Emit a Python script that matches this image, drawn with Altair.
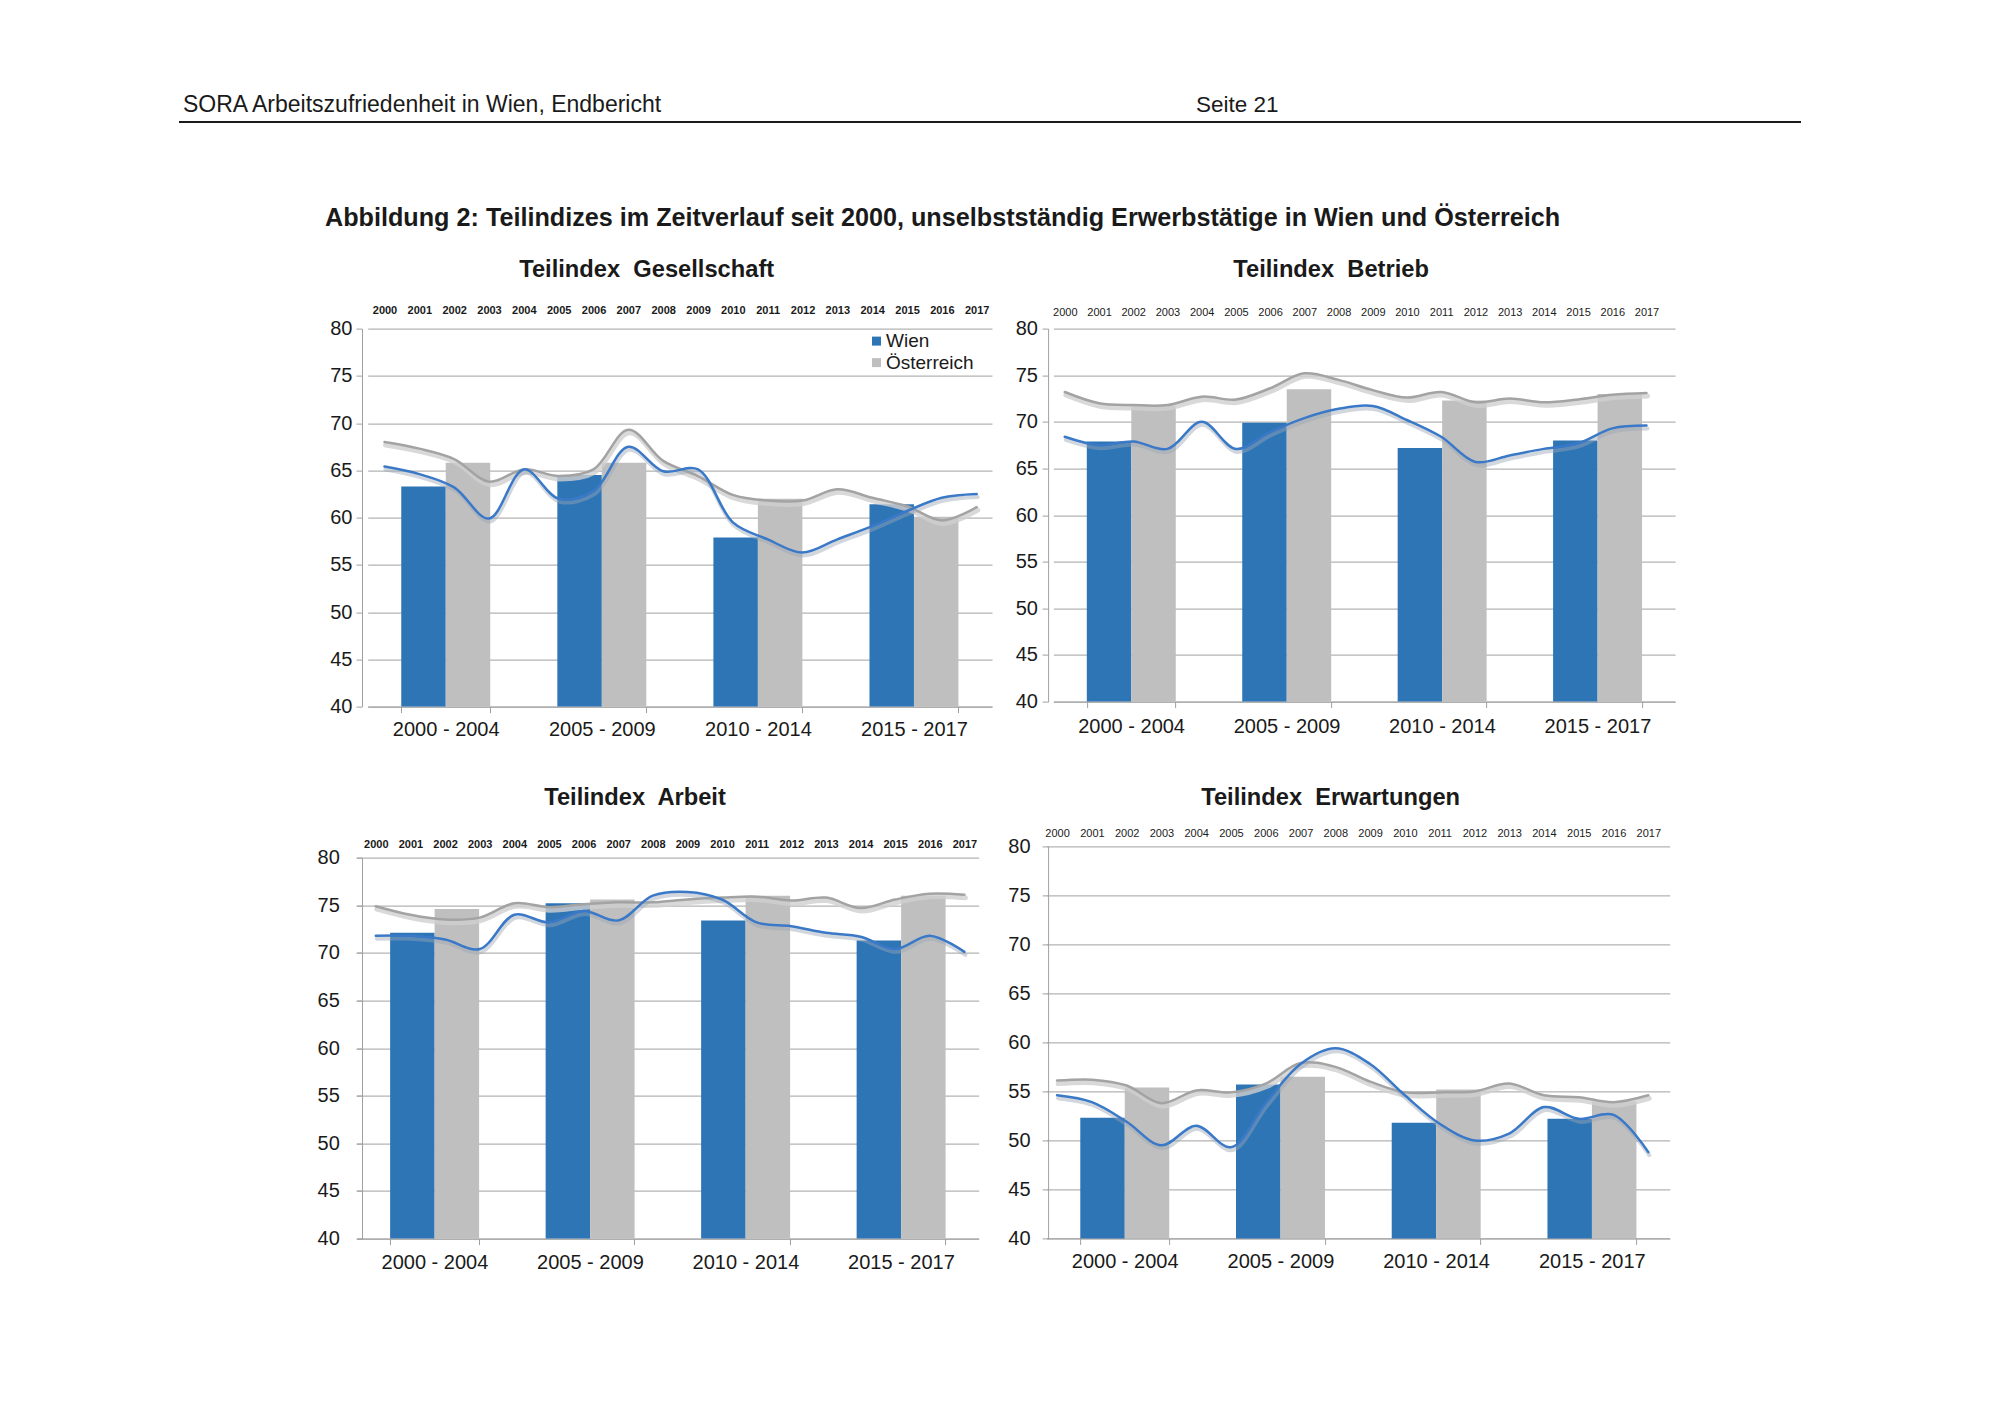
import altair as alt
import pandas as pd

# ---------------- data ----------------
periods = ["2000 - 2004", "2005 - 2009", "2010 - 2014", "2015 - 2017"]
years = ["2000", "2001", "2002", "2003", "2004", "2005", "2006", "2007", "2008",
         "2009", "2010", "2011", "2012", "2013", "2014", "2015", "2016", "2017"]
series = ["Wien", "Österreich"]
yticks = [40, 45, 50, 55, 60, 65, 70, 75, 80]

header_left = "SORA Arbeitszufriedenheit in Wien, Endbericht"
header_right = "Seite 21"
fig_title = ("Abbildung 2: Teilindizes im Zeitverlauf seit 2000, unselbstständig "
             "Erwerbstätige in Wien und Österreich")

# Teilindex Gesellschaft
ges_bar_wien = [63.3, 64.5, 57.9, 61.4]
ges_bar_oest = [65.8, 65.8, 62.0, 60.1]
ges_line_wien = [65.4, 64.6, 63.2, 59.9, 65.1, 62.0, 62.8, 67.5, 64.9, 65.1, 59.5, 57.7,
                 56.3, 57.7, 59.1, 60.7, 62.1, 62.5]
ges_line_oest = [68.0, 67.3, 66.2, 63.8, 65.1, 64.4, 65.1, 69.3, 66.0, 64.4, 62.4, 61.8,
                 61.8, 63.0, 62.1, 61.2, 59.7, 61.1]

# Teilindex Betrieb
bet_bar_wien = [67.9, 69.9, 67.2, 68.0]
bet_bar_oest = [71.7, 73.5, 72.3, 73.0]
bet_line_wien = [68.4, 67.5, 67.9, 67.1, 70.0, 67.1, 68.9, 70.4, 71.4, 71.7, 70.2, 68.4,
                 65.7, 66.4, 67.1, 67.7, 69.3, 69.6]
bet_line_oest = [73.2, 72.0, 71.8, 71.8, 72.7, 72.4, 73.6, 75.2, 74.5, 73.4, 72.6, 73.2,
                 72.1, 72.5, 72.1, 72.4, 72.9, 73.1]

# Teilindex Arbeit
arb_bar_wien = [72.1, 75.2, 73.4, 71.3]
arb_bar_oest = [74.6, 75.6, 76.0, 76.0]
arb_line_wien = [71.8, 71.8, 71.4, 70.4, 74.0, 73.2, 74.4, 73.4, 76.0, 76.4, 75.6, 73.2,
                 72.8, 72.1, 71.7, 70.4, 71.8, 70.1]
arb_line_oest = [74.9, 74.0, 73.5, 73.7, 75.2, 74.8, 75.1, 75.3, 75.3, 75.6, 75.8, 75.9,
                 75.5, 75.8, 74.7, 75.6, 76.2, 76.1]

# Teilindex Erwartungen
erw_bar_wien = [52.3, 55.7, 51.8, 52.2]
erw_bar_oest = [55.4, 56.5, 55.2, 54.0]
erw_line_wien = [54.6, 53.9, 51.9, 49.5, 51.5, 49.3, 53.8, 57.8, 59.4, 57.8, 54.6, 51.7,
                 50.0, 50.7, 53.4, 52.2, 52.6, 48.8]
erw_line_oest = [56.1, 56.2, 55.6, 53.8, 55.1, 54.9, 55.8, 57.9, 57.5, 56.0, 54.9, 54.9,
                 55.0, 55.8, 54.6, 54.4, 53.9, 54.6]

# ---------------- style ----------------
FONT = "Liberation Sans"
TXT = "#1a1a1a"
GRID = "#a0a0a0"
BAR_BLUE = "#2E75B6"
BAR_GRAY = "#BFBFBF"
LN_BLUE = "#3A78C8"
LN_GRAY = "#A3A3A3"
SH_BLUE = "#9AA6B4"
SH_GRAY = "#CFCFCF"


def panel(title, bw, bo, lw, lo, w, h, band_rng, year_rng, ext, ypad, tdx, toff,
          toppad, ywt, xpad, legend):
    bar_df = pd.DataFrame({
        "period": periods + periods,
        "series": [series[0]] * len(periods) + [series[1]] * len(periods),
        "value": bw + bo,
    })
    line_df = pd.DataFrame({
        "year": years + years,
        "series": [series[0]] * len(years) + [series[1]] * len(years),
        "value": lw + lo,
    })
    yscale = alt.Scale(domain=[40, 80], nice=False, zero=False)
    yaxis = alt.Axis(values=yticks, title=None, grid=True, gridColor=GRID, gridWidth=1,
                     domainColor=GRID, tickColor=GRID, tickSize=6, labelFontSize=20,
                     labelColor=TXT, labelPadding=ypad, minExtent=ext, maxExtent=400)
    if legend:
        leg = alt.Legend(orient="none", legendX=505, legendY=3, title=None,
                         symbolType="square", symbolSize=81, symbolStrokeWidth=0,
                         labelFontSize=19, labelColor=TXT, labelOffset=0,
                         rowPadding=1.5, padding=0)
    else:
        leg = None
    bars = alt.Chart(bar_df).mark_bar().encode(
        x=alt.X("period:N", sort=periods, title=None,
                scale=alt.Scale(paddingInner=0.43, paddingOuter=0.215, range=band_rng),
                axis=alt.Axis(labelAngle=0, labelFontSize=20, labelColor=TXT,
                              tickBand="extent", tickSize=6, tickColor=GRID,
                              domainColor=GRID, labelPadding=xpad, grid=False)),
        xOffset=alt.XOffset("series:N", sort=series,
                            scale=alt.Scale(paddingInner=0, paddingOuter=0)),
        y=alt.Y("value:Q", scale=yscale, axis=yaxis),
        y2=alt.datum(40),
        color=alt.Color("series:N", sort=series,
                        scale=alt.Scale(domain=series, range=[BAR_BLUE, BAR_GRAY]),
                        legend=leg),
    )
    xyear = alt.X("year:O", sort=years, title=None,
                  scale=alt.Scale(type="point", padding=0, range=year_rng),
                  axis=alt.Axis(orient="top", domain=False, ticks=False, tickSize=0,
                                labelFontSize=11, labelFontWeight=ywt, labelColor=TXT,
                                labelPadding=toppad, labelAngle=0, grid=False,
                                minExtent=0))

    def ln(name, color, width, opacity=1.0, dx=0, dy=0):
        return alt.Chart(line_df).transform_filter(
            alt.datum.series == name
        ).mark_line(interpolate="catmull-rom", color=color, strokeWidth=width,
                    opacity=opacity, xOffset=dx, yOffset=dy, strokeCap="round").encode(
            x=xyear,
            y=alt.Y("value:Q", scale=yscale, axis=yaxis),
        )

    lines = alt.layer(
        ln(series[1], SH_GRAY, 5, 0.8, 1, 3),
        ln(series[1], LN_GRAY, 2.5),
        ln(series[0], SH_BLUE, 4, 0.45, 1, 3),
        ln(series[0], LN_BLUE, 2.5),
    )
    return alt.layer(bars, lines).resolve_scale(x="independent").properties(
        width=w, height=h,
        title=alt.TitleParams(title, fontSize=23.7, fontWeight="bold", color=TXT,
                              anchor="middle", frame="group", dx=tdx, offset=toff),
    )


p1 = panel("Teilindex\u00a0 Gesellschaft", ges_bar_wien, ges_bar_oest, ges_line_wien,
           ges_line_oest, 630, 378, [5.7, 630], [22.5, 614.7],
           100, 4, -30.3, 23, 13, "bold", 7, True)
p2 = panel("Teilindex\u00a0 Betrieb", bet_bar_wien, bet_bar_oest, bet_line_wien,
           bet_line_oest, 627, 373, [5.3, 627], [16.7, 598.4],
           55, 4.7, -30.5, 24.8, 11, "normal", 9, False)
p3 = panel("Teilindex\u00a0 Arbeit", arb_bar_wien, arb_bar_oest, arb_line_wien,
           arb_line_oest, 617, 381, [-5.3, 616.7], [13.8, 602.4],
           100, 16.7, -35.5, 28.5, 8, "bold", 8, False)
p4 = panel("Teilindex\u00a0 Erwartungen", erw_bar_wien, erw_bar_oest, erw_line_wien,
           erw_line_oest, 622, 392, [-1.3, 621.6], [9, 600.2],
           55, 12, -28.5, 18, 8, "normal", 7, False)

# ---------------- header ----------------
h_left = alt.Chart(pd.DataFrame({"label": [header_left]})).mark_text(
    align="left", baseline="alphabetic", fontSize=23, color=TXT
).encode(text="label:N", x=alt.value(-179), y=alt.value(104))
h_right = alt.Chart(pd.DataFrame({"label": [header_right]})).mark_text(
    align="left", baseline="alphabetic", fontSize=22.5, color=TXT
).encode(text="label:N", x=alt.value(834), y=alt.value(104))
h_rule = alt.Chart(pd.DataFrame({"label": [header_right]})).mark_rule(
    color=TXT, strokeWidth=2
).encode(x=alt.value(-183), x2=alt.value(1439), y=alt.value(114))
header = alt.layer(h_left, h_right, h_rule).properties(width=1439, height=148.5)

col_left = alt.vconcat(p1, p3, spacing=46).resolve_scale(color="independent")
col_right = alt.vconcat(p2, p4, spacing=48.8).resolve_scale(color="independent")

row = alt.hconcat(
    col_left, col_right, spacing=1.1,
    title=alt.TitleParams(fig_title, anchor="start", dx=63, fontSize=25.2,
                          fontWeight="bold", color=TXT, offset=26.6),
).resolve_scale(color="independent")

chart = alt.vconcat(header, row, spacing=48.6).resolve_scale(
    color="independent"
).properties(
    padding={"left": 170, "top": 0, "right": 10, "bottom": 10},
).configure(font=FONT, background="white").configure_view(stroke=None)

chart.save("out.html", embed_options={"renderer": "svg", "actions": False})
